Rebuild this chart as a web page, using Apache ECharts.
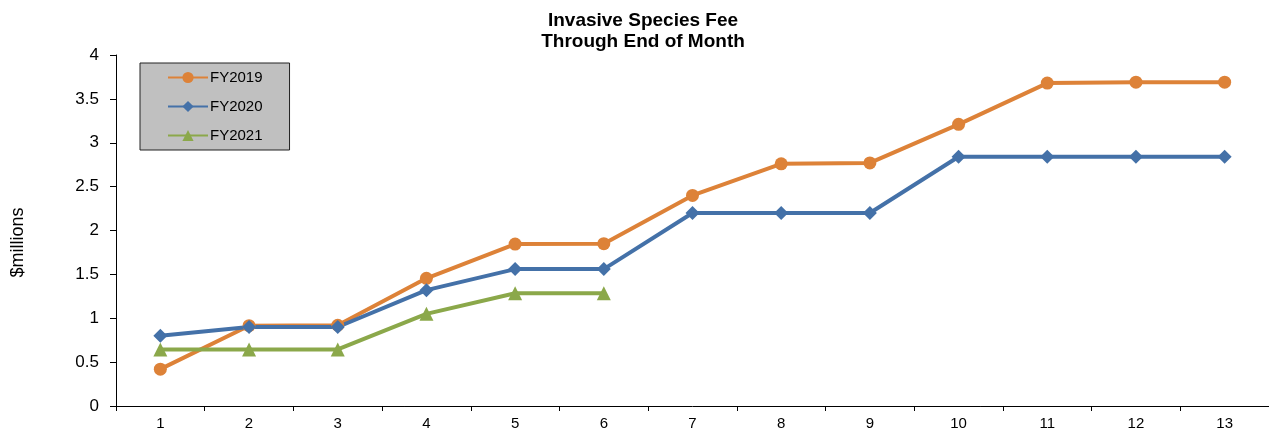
<!DOCTYPE html>
<html>
<head>
<meta charset="utf-8">
<script src="https://cdn.jsdelivr.net/npm/echarts@6/dist/echarts.min.js"></script>
<style>
  html, body { margin: 0; padding: 0; background: #fff; }
  #main { width: 1269px; height: 434px; }
</style>
</head>
<body>
<div id="main"></div>
<script>
// months of the fiscal year
var months = ['1', '2', '3', '4', '5', '6', '7', '8', '9', '10', '11', '12', '13'];
var fy2019 = [0.42, 0.915, 0.92, 1.455, 1.845, 1.85, 2.40, 2.76, 2.77, 3.21, 3.68, 3.69, 3.69];
var fy2020 = [0.80, 0.90, 0.90, 1.32, 1.56, 1.56, 2.20, 2.20, 2.20, 2.84, 2.84, 2.84, 2.84];
var fy2021 = [0.645, 0.645, 0.645, 1.05, 1.285, 1.285];
var yTicks = [0, 0.5, 1, 1.5, 2, 2.5, 3, 3.5, 4];

var font = 'Liberation Sans, Arial, sans-serif';

var chart = echarts.init(document.getElementById('main'));
chart.setOption({
  animation: false,
  textStyle: { fontFamily: font },
  title: {
    text: 'Invasive Species Fee\nThrough End of Month',
    left: 638,
    textAlign: 'center',
    top: 5,
    textStyle: { fontSize: 19, fontWeight: 'bold', color: '#000', lineHeight: 21, fontFamily: font }
  },
  legend: {
    orient: 'vertical',
    left: 140,
    top: 63,
    backgroundColor: '#c0c0c0',
    borderColor: '#222',
    borderWidth: 1,
    borderRadius: 0,
    padding: [7, 27, 7, 27],
    itemWidth: 40,
    itemHeight: 14,
    itemGap: 14,
    textStyle: { fontSize: 15, lineHeight: 14, color: '#000', fontFamily: font, padding: [0, 0, 0, -3] },
    data: ['FY2019', 'FY2020', 'FY2021']
  },
  grid: { left: 116, right: 0, top: 55, bottom: 28, outerBoundsMode: 'none' },
  xAxis: {
    type: 'category',
    data: months,
    boundaryGap: true,
    axisLine: { lineStyle: { color: '#000', width: 1 } },
    axisTick: { show: true, length: 5, lineStyle: { color: '#000' } },
    axisLabel: { fontSize: 15, color: '#000', margin: 10 }
  },
  yAxis: {
    type: 'value',
    min: yTicks[0],
    max: yTicks[yTicks.length - 1],
    interval: 0.5,
    name: '$millions',
    nameLocation: 'middle',
    nameGap: 89,
    nameRotate: 90,
    nameTextStyle: { fontSize: 18, color: '#000', padding: [0, 24, 0, 0] },
    splitLine: { show: false },
    axisLine: { show: true, lineStyle: { color: '#000', width: 1 } },
    axisTick: { show: true, length: 6, lineStyle: { color: '#000' } },
    axisLabel: { fontSize: 17, color: '#000', margin: 17 }
  },
  series: [
    {
      name: 'FY2019', type: 'line', data: fy2019,
      symbol: 'circle', symbolSize: 13,
      lineStyle: { width: 4, color: '#DD8238' },
      itemStyle: { color: '#DD8238' }
    },
    {
      name: 'FY2020', type: 'line', data: fy2020,
      symbol: 'diamond', symbolSize: 14,
      lineStyle: { width: 4, color: '#4471A8' },
      itemStyle: { color: '#4471A8' }
    },
    {
      name: 'FY2021', type: 'line', data: fy2021,
      symbol: 'triangle', symbolSize: 14,
      lineStyle: { width: 4, color: '#8BA84A' },
      itemStyle: { color: '#8BA84A' }
    }
  ]
});
</script>
</body>
</html>
